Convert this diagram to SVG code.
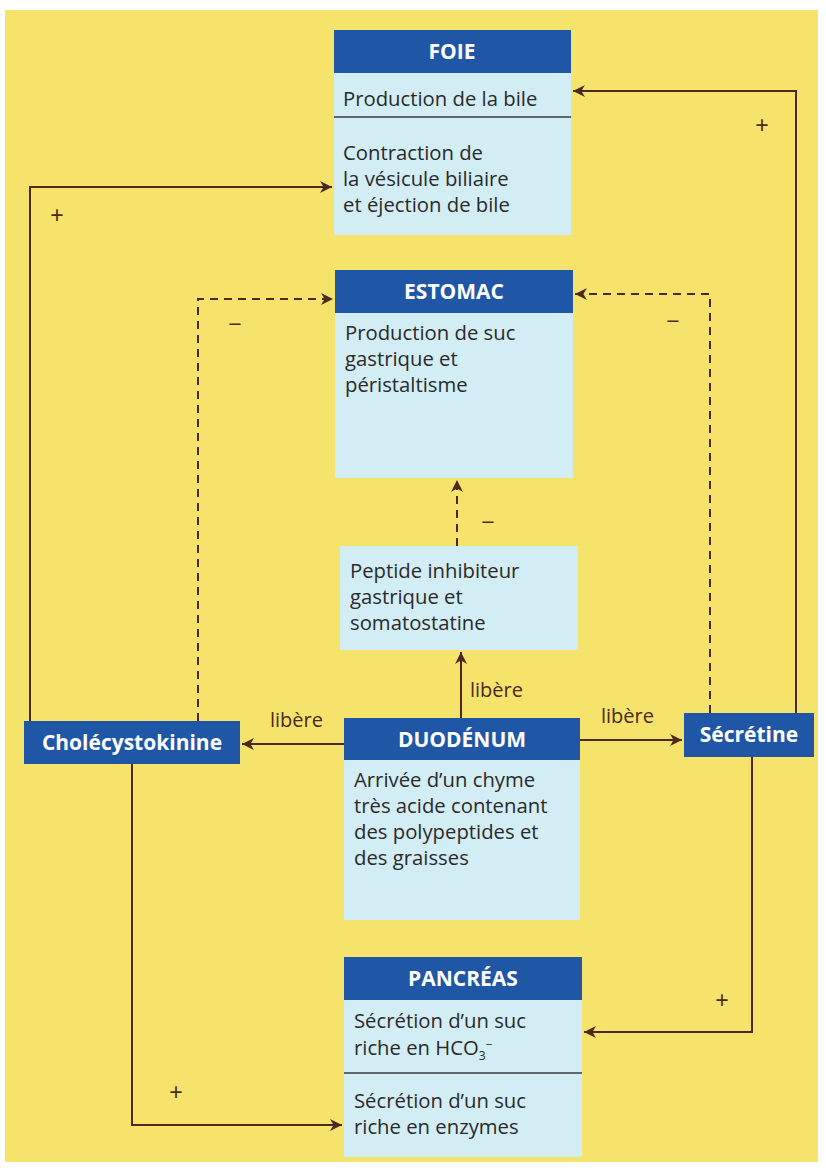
<svg xmlns="http://www.w3.org/2000/svg" width="826" height="1173" viewBox="0 0 826 1173">
<style>
.hd{fill:#1f56a6}
.bd{fill:#d3edf4}
.ht{font-family:"Open Sans","Liberation Sans",sans-serif;font-weight:bold;font-size:21px;fill:#ffffff;text-anchor:middle}
.tx{font-family:"Open Sans","Liberation Sans",sans-serif;font-size:20.3px;fill:#2a2a2a}
.lb{font-family:"Open Sans","Liberation Sans",sans-serif;font-size:20px;fill:#4a2a1e}
.sg{font-family:"Liberation Sans",sans-serif;font-size:23px;fill:#4a2a1e;text-anchor:middle}
.sep{stroke:#3a3a3a;stroke-width:1.5}
.ln{fill:none;stroke:#4a2a1e;stroke-width:2}
.ds{fill:none;stroke:#4a2a1e;stroke-width:2;stroke-dasharray:8,6}
</style>
<defs>
<marker id="ahb" viewBox="0 0 10 10" refX="10" refY="5" markerWidth="12" markerHeight="12" markerUnits="userSpaceOnUse" orient="auto">
<path d="M0,0 L10,5 L0,10 L3,5 Z" fill="#4a2a1e"/>
</marker>
</defs>
<rect x="0" y="0" width="826" height="1173" fill="#ffffff"/>
<rect x="5" y="10" width="813" height="1152" fill="#f6e36b"/>

<g id="connectors">
<polyline class="ln" points="30,721 30,187 332,187" marker-end="url(#ahb)"/>
<polyline class="ln" points="796,713 796,91 573,91" marker-end="url(#ahb)"/>
<polyline class="ds" points="198,721 198,299 333,299" marker-end="url(#ahb)"/>
<polyline class="ds" points="710,713 710,294 575,294" marker-end="url(#ahb)"/>
<line class="ds" x1="457" y1="546" x2="457" y2="480" marker-end="url(#ahb)"/>
<line class="ln" x1="461" y1="718" x2="461" y2="652" marker-end="url(#ahb)"/>
<line class="ln" x1="344" y1="744" x2="242" y2="744" marker-end="url(#ahb)"/>
<line class="ln" x1="580" y1="740" x2="682" y2="740" marker-end="url(#ahb)"/>
<polyline class="ln" points="132,764 132,1125 342,1125" marker-end="url(#ahb)"/>
<polyline class="ln" points="752,757 752,1032 584,1032" marker-end="url(#ahb)"/>
<text class="sg" x="57" y="223">+</text>
<text class="sg" x="762" y="133">+</text>
<text class="sg" x="235" y="332">−</text>
<text class="sg" x="673" y="329">−</text>
<text class="sg" x="488" y="530">−</text>
<text class="sg" x="176" y="1100">+</text>
<text class="sg" x="722" y="1008">+</text>
<text class="lb" x="470" y="697">libère</text>
<text class="lb" x="270" y="727">libère</text>
<text class="lb" x="601" y="723">libère</text>
</g>

<g id="foie">
<rect class="bd" x="334" y="73" width="237" height="162"/>
<rect class="hd" x="334" y="30" width="237" height="43"/>
<text class="ht" x="452" y="59">FOIE</text>
<text class="tx" x="343" y="106">Production de la bile</text>
<line class="sep" x1="334" y1="117" x2="571" y2="117"/>
<text class="tx" x="343" y="160">Contraction de</text>
<text class="tx" x="343" y="186">la vésicule biliaire</text>
<text class="tx" x="343" y="212">et éjection de bile</text>
</g>

<g id="estomac">
<rect class="bd" x="335" y="313" width="238" height="165"/>
<rect class="hd" x="335" y="270" width="238" height="43"/>
<text class="ht" x="454" y="299">ESTOMAC</text>
<text class="tx" x="345" y="340">Production de suc</text>
<text class="tx" x="345" y="366">gastrique et</text>
<text class="tx" x="345" y="392">péristaltisme</text>
</g>

<g id="peptide">
<rect class="bd" x="340" y="546" width="238" height="104"/>
<text class="tx" x="350" y="578">Peptide inhibiteur</text>
<text class="tx" x="350" y="604">gastrique et</text>
<text class="tx" x="350" y="630">somatostatine</text>
</g>

<g id="duodenum">
<rect class="bd" x="344" y="760" width="236" height="160"/>
<rect class="hd" x="344" y="718" width="236" height="42"/>
<text class="ht" x="462" y="747">DUODÉNUM</text>
<text class="tx" x="354" y="787">Arrivée d’un chyme</text>
<text class="tx" x="354" y="813">très acide contenant</text>
<text class="tx" x="354" y="839">des polypeptides et</text>
<text class="tx" x="354" y="865">des graisses</text>
</g>

<g id="cholecystokinine">
<rect class="hd" x="24" y="721" width="216" height="43"/>
<text class="ht" x="132" y="750">Cholécystokinine</text>
</g>

<g id="secretine">
<rect class="hd" x="684" y="713" width="130" height="44"/>
<text class="ht" x="749" y="742">Sécrétine</text>
</g>

<g id="pancreas">
<rect class="bd" x="344" y="1000" width="238" height="157"/>
<rect class="hd" x="344" y="957" width="238" height="43"/>
<text class="ht" x="463" y="986">PANCRÉAS</text>
<text class="tx" x="354" y="1028">Sécrétion d’un suc</text>
<text class="tx" x="354" y="1055">riche en HCO<tspan font-size="12" dy="5">3</tspan><tspan font-size="12" dy="-11">−</tspan></text>
<line class="sep" x1="344" y1="1073" x2="582" y2="1073"/>
<text class="tx" x="354" y="1108">Sécrétion d’un suc</text>
<text class="tx" x="354" y="1134">riche en enzymes</text>
</g>
</svg>
